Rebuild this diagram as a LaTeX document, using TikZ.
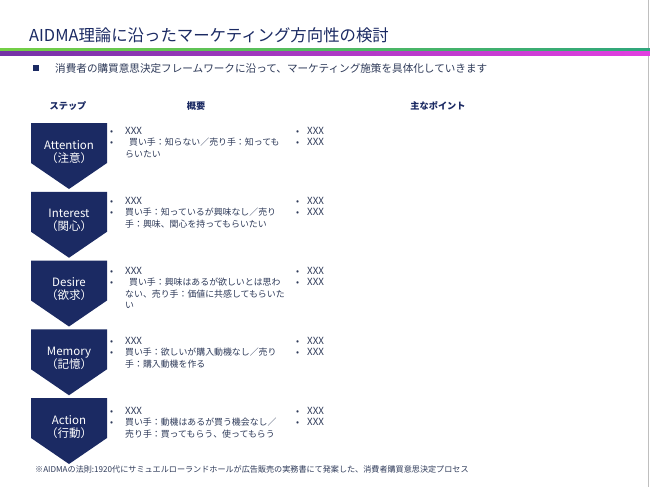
\documentclass[tikz,border=0pt]{standalone}
\usepackage{fontspec}
\setmainfont{Noto Sans CJK JP}
\definecolor{navy}{HTML}{1B2A63}
\definecolor{bodytxt}{HTML}{2E3A59}
\definecolor{gleft}{HTML}{74CF45}
\definecolor{gright}{HTML}{2FA67C}
\definecolor{pleft}{HTML}{7432A6}
\definecolor{pright}{HTML}{E23FE0}
\newcommand\blA{\makebox[15pt][l]{•}}
\newcommand\blB{\makebox[11pt][l]{•}}
\newcommand\xxx{{\fontsize{9.8}{11.3}\selectfont XXX}}
\tikzset{
  chevron/.style={fill=navy},
  steplabel/.style={text=white, align=center, font=\fontsize{11.5}{13}\selectfont, inner sep=0pt},
  header/.style={text=navy, font=\fontsize{9.2}{11}\selectfont\bfseries, inner sep=0pt},
  desc/.style={text=bodytxt, anchor=base west, inner sep=0pt, font=\fontsize{8.9}{11.3}\selectfont},
}
\begin{document}
\begin{tikzpicture}[x=1pt,y=-1pt]
\useasboundingbox (0,0) rectangle (650,487);
\fill[white] (0,0) rectangle (650,487);
\draw[black!25, line width=0.8pt] (648.6,0) -- (648.6,487);
% title
\node[anchor=west, text=navy, inner sep=0pt, font=\fontsize{16.4}{19}\selectfont] (title) at (29,35) {AIDMA理論に沿ったマーケティング方向性の検討};
\shade[left color=gleft, right color=gright] (0,48.5) rectangle (650,51.2);
\shade[left color=pleft, right color=pright] (0,51.2) rectangle (650,55.8);
% lead line
\node[fill=navy, minimum size=6pt, inner sep=0pt] (sq) at (36,68) {};
\node[anchor=west, text=bodytxt, inner sep=0pt, font=\fontsize{10.6}{12}\selectfont] (lead) at (55,68) {消費者の購買意思決定フレームワークに沿って、マーケティング施策を具体化していきます};
% headers
\node[header] (h1) at (68,106) {ステップ};
\node[header] (h2) at (196,106) {概要};
\node[header] (h3) at (438,106) {主なポイント};
% chevrons
\foreach \i/\en/\jp in {0/Attention/注意, 1/Interest/関心, 2/Desire/欲求, 3/Memory/記憶, 4/Action/行動} {
  \pgfmathsetmacro\yy{123+68.75*\i}
  \fill[chevron] (31,\yy) -- ++(76,0) -- ++(0,40) -- ++(-38,26) -- ++(-38,-26) -- cycle;
  \node[steplabel] (step\i) at (69,{\yy+29}) {\en\\（\jp）};
  \node[desc] (pt\i) at (296,{134.5+70*\i}) {\begin{tabular}[t]{@{}l@{}}\blB\xxx\\ \blB\xxx\end{tabular}};
}
% descriptions
\node[desc] (d0) at (110,134.5) {\begin{tabular}[t]{@{}l@{}}\blA\xxx\\ \blA\hspace{4pt}買い手：知らない／売り手：知っても\\ \hspace{15pt}らいたい\end{tabular}};
\node[desc] (d1) at (110,204.5) {\begin{tabular}[t]{@{}l@{}}\blA\xxx\\ \blA 買い手：知っているが興味なし／売り\\ \hspace{15pt}手：興味、関心を持ってもらいたい\end{tabular}};
\node[desc] (d2) at (110,274.5) {\begin{tabular}[t]{@{}l@{}}\blA\xxx\\ \blA\hspace{4pt}買い手：興味はあるが欲しいとは思わ\\ \hspace{15pt}ない、売り手：価値に共感してもらいた\\ \hspace{15pt}い\end{tabular}};
\node[desc] (d3) at (110,344.5) {\begin{tabular}[t]{@{}l@{}}\blA\xxx\\ \blA 買い手：欲しいが購入動機なし／売り\\ \hspace{15pt}手：購入動機を作る\end{tabular}};
\node[desc] (d4) at (110,414.5) {\begin{tabular}[t]{@{}l@{}}\blA\xxx\\ \blA 買い手：動機はあるが買う機会なし／\\ \hspace{15pt}売り手：買ってもらう、使ってもらう\end{tabular}};
% footnote
\node[anchor=west, text=bodytxt, inner sep=0pt, font=\fontsize{8.1}{9.5}\selectfont] (foot) at (35,469) {※AIDMAの法則:1920代にサミュエルローランドホールが広告販売の実務書にて発案した、消費者購買意思決定プロセス};
\end{tikzpicture}
\end{document}
